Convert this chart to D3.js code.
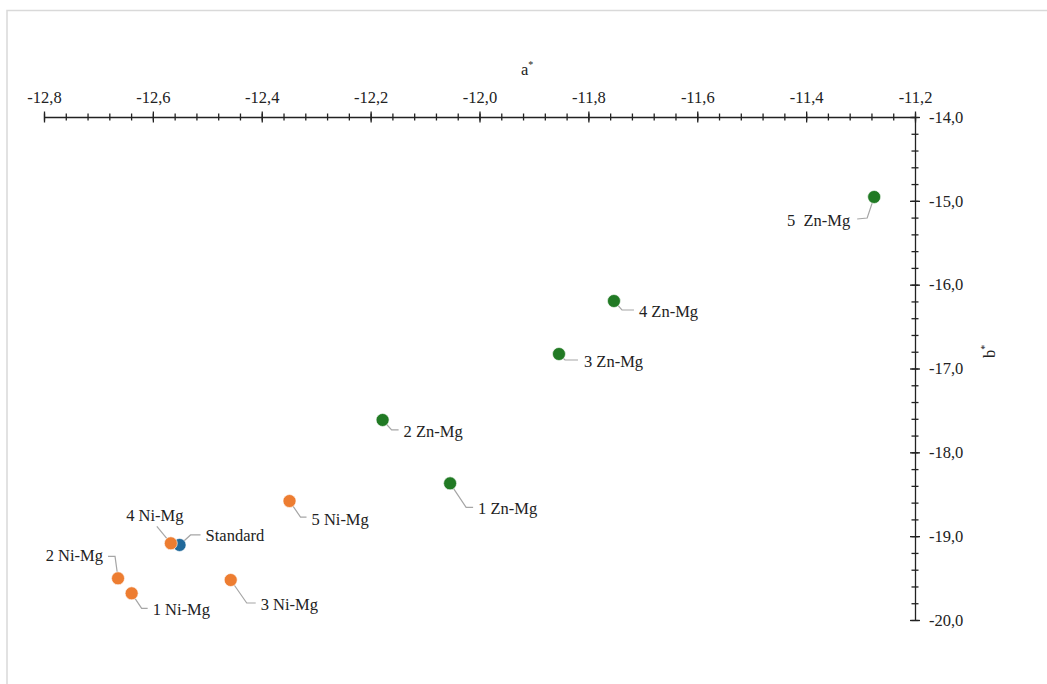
<!DOCTYPE html>
<html>
<head>
<meta charset="utf-8">
<script src="https://cdn.jsdelivr.net/npm/d3@7"></script>
<style>
  body { margin: 0; background: #fff; }
  svg text { font-family: "Liberation Serif", "Tinos", "DejaVu Serif", "Times New Roman", serif !important; fill: #222; }
  .axis path, .axis line { stroke: #222; stroke-width: 1.3; }
  .leader { fill: none; stroke: #a6a6a6; stroke-width: 1.2; }
</style>
</head>
<body>
<div id="vis"></div>
<script>
// data (a* horizontal, b* vertical)
var standardLabels = ["Standard"];
var standardA = [-12.551];
var standardB = [-19.105];

var niLabels = ["1 Ni-Mg", "2 Ni-Mg", "3 Ni-Mg", "4 Ni-Mg", "5 Ni-Mg"];
var niA = [-12.639, -12.664, -12.457, -12.567, -12.349];
var niB = [-19.682, -19.503, -19.523, -19.085, -18.581];

var znLabels = ["1 Zn-Mg", "2 Zn-Mg", "3 Zn-Mg", "4 Zn-Mg", "5  Zn-Mg"];
var znA = [-12.054, -12.178, -11.854, -11.753, -11.275];
var znB = [-18.370, -17.614, -16.827, -16.195, -14.954];

var aDomain = [-12.8, -11.2];
var bDomain = [-14, -20];
var aMajor = d3.range(-12.8, -11.19, 0.2);
var bMajor = d3.range(-14, -20.01, -1);

// label placement (pixels relative to the point): elbow, end of leader, text pos, anchor
var labelLayout = {
  "Standard": { elbow: [11, -10], end: [21, -10], text: [26, -10], anchor: "start" },
  "1 Ni-Mg":  { elbow: [10, 15],  end: [16, 15],  text: [21, 16],  anchor: "start" },
  "2 Ni-Mg":  { elbow: [-3, -22], end: [-10, -22], text: [-15, -23], anchor: "end" },
  "3 Ni-Mg":  { elbow: [16, 23],  end: [25, 23],  text: [30, 24],  anchor: "start" },
  "4 Ni-Mg":  { elbow: [-14, -17], end: [-14, -17], text: [-16, -28], anchor: "middle" },
  "5 Ni-Mg":  { elbow: [11, 16],  end: [17, 16],  text: [22, 18],  anchor: "start" },
  "1 Zn-Mg":  { elbow: [16, 24],  end: [23, 24],  text: [28, 25],  anchor: "start" },
  "2 Zn-Mg":  { elbow: [9, 10],   end: [16, 10],  text: [21, 11],  anchor: "start" },
  "3 Zn-Mg":  { elbow: [6, 6],    end: [19, 6],   text: [25, 7],   anchor: "start" },
  "4 Zn-Mg":  { elbow: [8, 9],    end: [20, 9],   text: [25, 10],  anchor: "start" },
  "5  Zn-Mg": { elbow: [-7, 21],  end: [-17, 22], text: [-24, 23], anchor: "end" }
};

var serif = "'Liberation Serif', Tinos, 'DejaVu Serif', 'Times New Roman', serif";
var width = 1047, height = 684;

var svg = d3.select("#vis").append("svg")
  .attr("width", width)
  .attr("height", height)
  .attr("font-family", serif);

// light frame (left and top only)
svg.append("path")
  .attr("d", "M7," + height + "V10.5H" + width)
  .attr("fill", "none")
  .attr("stroke", "#d9d9d9")
  .attr("stroke-width", 1.5);

var x = d3.scaleLinear().domain(aDomain).range([44, 915]);
var y = d3.scaleLinear().domain(bDomain).range([117, 620]);

var locale = d3.formatLocale({ decimal: ",", thousands: ".", grouping: [3], currency: ["", ""], minus: "-" });
var fmt = locale.format(".1f");

// x axis on top, crossing ticks
var xMinor = svg.append("g")
  .attr("class", "axis")
  .attr("transform", "translate(0," + y(-14) + ")")
  .call(d3.axisTop(x).tickValues(d3.range(-12.8, -11.19, 0.04)).tickSize(3.5).tickSizeOuter(0).tickFormat(""));
xMinor.selectAll(".tick line").attr("y1", 3.5);

var xAxis = svg.append("g")
  .attr("class", "axis")
  .attr("transform", "translate(0," + y(-14) + ")")
  .call(d3.axisTop(x).tickValues(aMajor).tickSize(5.5).tickSizeOuter(0).tickPadding(8.5).tickFormat(fmt));
xAxis.attr("font-family", serif).attr("font-size", 16.5);
xAxis.selectAll(".tick line").attr("y1", 5.5);
xAxis.select(".domain").remove();
xAxis.selectAll("text").attr("fill", "#222");

// y axis on the right
var yMinor = svg.append("g")
  .attr("class", "axis")
  .attr("transform", "translate(" + x(-11.2) + ",0)")
  .call(d3.axisRight(y).tickValues(d3.range(-14, -20.01, -0.2)).tickSize(3.5).tickSizeOuter(0).tickFormat(""));
yMinor.selectAll(".tick line").attr("x1", -3.5);

var yAxis = svg.append("g")
  .attr("class", "axis")
  .attr("transform", "translate(" + x(-11.2) + ",0)")
  .call(d3.axisRight(y).tickValues(bMajor).tickSize(5).tickSizeOuter(0).tickPadding(9).tickFormat(fmt));
yAxis.attr("font-family", serif).attr("font-size", 16.5);
yAxis.selectAll(".tick line").attr("x1", -5);
yAxis.select(".domain").remove();
yAxis.selectAll("text").attr("fill", "#222");

// axis titles
var aTitle = svg.append("text")
  .attr("x", 521)
  .attr("y", 75)
  .attr("font-size", 16.5);
aTitle.append("tspan").text("a");
aTitle.append("tspan").attr("font-size", 10).attr("dy", -7).text("*");

var bTitle = svg.append("text")
  .attr("transform", "translate(995,358) rotate(-90)")
  .attr("font-size", 16.5);
bTitle.append("tspan").text("b");
bTitle.append("tspan").attr("font-size", 10).attr("dy", -7).text("*");

// build point list
function toPoints(labels, as, bs, color) {
  return labels.map(function(l, i) { return { label: l, a: as[i], b: bs[i], color: color }; });
}
var points = []
  .concat(toPoints(standardLabels, standardA, standardB, "#21699a"))
  .concat(toPoints(niLabels, niA, niB, "#ed7d31"))
  .concat(toPoints(znLabels, znA, znB, "#217a24"));

// leader lines
svg.selectAll("path.leader")
  .data(points)
  .enter().append("path")
  .attr("class", "leader")
  .attr("d", function(d) {
    var px = x(d.a), py = y(d.b), L = labelLayout[d.label];
    return "M" + px + "," + py +
      "L" + (px + L.elbow[0]) + "," + (py + L.elbow[1]) +
      "L" + (px + L.end[0]) + "," + (py + L.end[1]);
  });

// markers
svg.selectAll("circle.pt")
  .data(points)
  .enter().append("circle")
  .attr("class", "pt")
  .attr("cx", function(d) { return x(d.a); })
  .attr("cy", function(d) { return y(d.b); })
  .attr("r", 6.5)
  .attr("fill", function(d) { return d.color; })
  .attr("stroke", "#fff")
  .attr("stroke-width", 0.6);

// labels
svg.selectAll("text.lbl")
  .data(points)
  .enter().append("text")
  .attr("class", "lbl")
  .attr("x", function(d) { return x(d.a) + labelLayout[d.label].text[0]; })
  .attr("y", function(d) { return y(d.b) + labelLayout[d.label].text[1]; })
  .attr("dy", "0.35em")
  .attr("text-anchor", function(d) { return labelLayout[d.label].anchor; })
  .attr("font-size", 16.5)
  .style("white-space", "pre")
  .text(function(d) { return d.label; });
</script>
</body>
</html>
